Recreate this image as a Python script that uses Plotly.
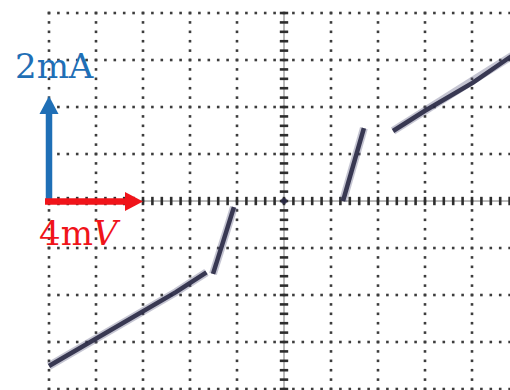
import numpy as np
import plotly.graph_objects as go

# I-V trace, voltage in mV, current in mA
lower_v = [-10.0, -8.0, -6.0, -4.6, -3.3]
lower_i = [-3.51, -2.93, -2.36, -1.94, -1.52]
rise_neg_v = [-3.02, -2.64, -2.30, -2.13]
rise_neg_i = [-1.55, -0.94, -0.40, -0.13]
rise_pos_v = [2.51, 2.81, 3.11, 3.40]
rise_pos_i = [0.0, 0.55, 1.09, 1.55]
upper_v = [4.64, 6.0, 8.04, 9.70]
upper_i = [1.49, 1.92, 2.52, 3.09]

# scope graticule: 2 mV/div horizontally, 1 mA/div vertically
v_per_div = 2.0
i_per_div = 1.0
x_divs = list(range(-5, 6))
y_divs = list(range(-4, 5))
minor_steps = 5

# scale bar
scale_v = 4.0
scale_i = 2.0
scale_v_label = "4m<i>V</i>"
scale_i_label = "2mA"

W, H = 510, 390
x_range = [-12.085, 9.617]
y_range = [-4.021, 4.277]
px_per_v = W / (x_range[1] - x_range[0])
px_per_i = H / (y_range[1] - y_range[0])

fig = go.Figure()

# dotted graticule
gx, gy = [], []
for d in x_divs:
    if d == 0:
        continue
    ys = np.linspace(y_divs[0], y_divs[-1], (len(y_divs) - 1) * minor_steps + 1) * i_per_div
    gx += [d * v_per_div] * len(ys)
    gy += list(ys)
for d in y_divs:
    if d == 0:
        continue
    xs = np.linspace(x_divs[0], x_divs[-1], (len(x_divs) - 1) * minor_steps + 1) * v_per_div
    gx += list(xs)
    gy += [d * i_per_div] * len(xs)
fig.add_trace(go.Scatter(x=gx, y=gy, mode="markers",
                         marker=dict(symbol="square", size=2.6, color="#3c3c3c", line=dict(width=0)),
                         hoverinfo="skip"))

# centre axes with minor ticks
cx = np.linspace(x_divs[0], x_divs[-1], (len(x_divs) - 1) * minor_steps + 1) * v_per_div
cy = np.linspace(y_divs[0], y_divs[-1], (len(y_divs) - 1) * minor_steps + 1) * i_per_div
fig.add_trace(go.Scatter(x=[cx[0], cx[-1]], y=[0, 0], mode="lines",
                         line=dict(color="#777", width=1), hoverinfo="skip"))
fig.add_trace(go.Scatter(x=[0, 0], y=[cy[0], cy[-1]], mode="lines",
                         line=dict(color="#777", width=1), hoverinfo="skip"))
fig.add_trace(go.Scatter(x=cx, y=[0] * len(cx), mode="markers",
                         marker=dict(symbol="line-ns", size=6, line=dict(width=2.6, color="#2e2e2e")),
                         hoverinfo="skip"))
fig.add_trace(go.Scatter(x=[0] * len(cy), y=cy, mode="markers",
                         marker=dict(symbol="line-ew", size=6, line=dict(width=2.6, color="#2e2e2e")),
                         hoverinfo="skip"))

# I-V branches: soft halo under a darker core
for vs, cs in [(lower_v, lower_i), (rise_neg_v, rise_neg_i), (rise_pos_v, rise_pos_i), (upper_v, upper_i)]:
    fig.add_trace(go.Scatter(x=vs, y=cs, mode="lines",
                             line=dict(color="rgba(90,90,125,0.35)", width=8),
                             hoverinfo="skip"))
    fig.add_trace(go.Scatter(x=vs, y=cs, mode="lines",
                             line=dict(color="rgba(40,40,68,0.9)", width=4.5),
                             hoverinfo="skip"))
fig.add_trace(go.Scatter(x=[0], y=[0], mode="markers",
                         marker=dict(size=6, color="rgba(40,40,68,0.85)"), hoverinfo="skip"))

# scale-bar arrows starting at the left graticule edge
x0 = x_divs[0] * v_per_div
blue, red = "#1f6fb6", "#f0141a"
shaft = 6.5
head_len, head_w = 18, 19
dv = lambda p: p / px_per_v
di = lambda p: p / px_per_i

# current arrow (vertical)
i_tip = scale_i + di(11)
fig.add_shape(type="rect", x0=x0 - dv(shaft / 2), x1=x0 + dv(shaft / 2),
              y0=-di(2), y1=i_tip - di(head_len) + di(1),
              fillcolor=blue, line=dict(width=0), layer="above")
fig.add_shape(type="path",
              path=f"M {x0 - dv(head_w / 2)},{i_tip - di(head_len)} L {x0 + dv(head_w / 2)},{i_tip - di(head_len)} L {x0},{i_tip} Z",
              fillcolor=blue, line=dict(width=0), layer="above")

# voltage arrow (horizontal)
v_tip = x0 + scale_v
fig.add_shape(type="rect", x0=x0 - dv(4), x1=v_tip - dv(head_len) + dv(1),
              y0=-di(shaft / 2) - di(0.5), y1=di(shaft / 2) - di(0.5),
              fillcolor=red, line=dict(width=0), layer="above")
fig.add_shape(type="path",
              path=f"M {v_tip - dv(head_len)},{-di(head_w / 2) - di(0.5)} L {v_tip - dv(head_len)},{di(head_w / 2) - di(0.5)} L {v_tip},{-di(0.5)} Z",
              fillcolor=red, line=dict(width=0), layer="above")

fig.add_annotation(x=54 / W, y=1 - 66 / H, xref="paper", yref="paper", text=scale_i_label,
                   xanchor="center", yanchor="middle", showarrow=False,
                   font=dict(family="DejaVu Serif", size=34, color=blue))
fig.add_annotation(x=80 / W, y=1 - 233 / H, xref="paper", yref="paper", text=scale_v_label,
                   xanchor="center", yanchor="middle", showarrow=False,
                   font=dict(family="DejaVu Serif", size=34, color=red))

fig.update_layout(width=W, height=H, autosize=False, showlegend=False,
                  margin=dict(l=0, r=0, t=0, b=0),
                  paper_bgcolor="white", plot_bgcolor="white",
                  xaxis=dict(range=x_range, visible=False, fixedrange=True),
                  yaxis=dict(range=y_range, visible=False, fixedrange=True))

fig.write_html("out.html", config={"displayModeBar": False})
